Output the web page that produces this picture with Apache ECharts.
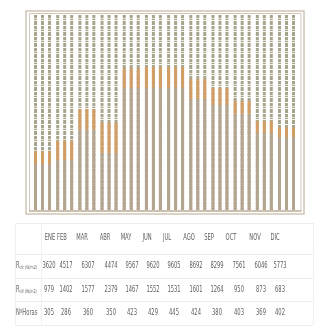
<!DOCTYPE html>
<html>
<head>
<meta charset="utf-8">
<script src="https://cdn.jsdelivr.net/npm/echarts@6/dist/echarts.min.js"></script>
<style>
  html, body { margin: 0; padding: 0; background: #fff; }
  #wrap { position: relative; width: 317px; height: 331px; overflow: hidden; }
  #chart { position: absolute; left: 0; top: 0; width: 317px; height: 331px; }
  #tabla { position: absolute; left: 0; top: 0; width: 317px; height: 331px; pointer-events: none;
           font-family: 'Liberation Sans Narrow', 'DejaVu Sans Condensed', sans-serif; color: #5e5e5e; font-size: 8px; }
  .t { position: absolute; white-space: nowrap; transform: translate(-50%, -50%) scaleX(0.72); line-height: 1; }
  .l { position: absolute; white-space: nowrap; transform-origin: left center; transform: translateY(-50%) scaleX(0.72); line-height: 1; }
  .l sub { font-size: 5px; vertical-align: -1px; }
  .h { position: absolute; height: 1px; background: #ececec; }
  .v { position: absolute; width: 1px; background: #f1f1f1; }
</style>
</head>
<body>
<div id="wrap">
  <div id="chart"></div>
  <div id="tabla"></div>
</div>
<script>
// meses
var meses = ['ENE', 'FEB', 'MAR', 'ABR', 'MAY', 'JUN', 'JUL', 'AGO', 'SEP', 'OCT', 'NOV', 'DIC'];

// valores de la tabla
var radDirecta = [3620, 4517, 6307, 4474, 9567, 9620, 9605, 8692, 8299, 7561, 6046, 5773];
var radDifusa = [979, 1402, 1577, 2379, 1467, 1552, 1531, 1601, 1264, 950, 873, 683];
var horas = [305, 286, 360, 350, 423, 429, 445, 424, 380, 403, 369, 402];

var barraDirecta = [3600, 3920, 6300, 4450, 9560, 9600, 9600, 8690, 8250, 7540, 6040, 5720];
var barraDifusa = [1000, 1500, 1620, 2400, 1560, 1620, 1620, 1570, 1340, 1000, 940, 760];

// posiciones de columnas de la tabla (solo maquetacion)
var xCabecera = [50, 62, 82, 105, 126, 147, 167, 189, 209, 231, 255, 275];
var xValor = [49, 66, 88, 111, 132, 153, 174, 196, 217, 239, 261, 280];

// patron rayado para la parte superior
var patron = document.createElement('canvas');
patron.width = 3;
patron.height = 11;
var pc = patron.getContext('2d');
pc.fillStyle = '#a8a58d';
pc.fillRect(0, 0, 3, 11);
pc.fillStyle = '#ffffff';
pc.fillRect(0, 3, 3, 1);
pc.fillStyle = '#e2e0d5';
pc.fillRect(0, 7, 3, 1);
pc.fillStyle = '#f4f3ee';
pc.fillRect(0, 9, 3, 1);

var myChart = echarts.init(document.getElementById('chart'));

var series = [];
for (var s = 0; s < 3; s++) {
    series.push({
        type: 'bar',
        stack: 'g' + s,
        data: barraDirecta,
        barWidth: 3,
        barGap: '133%',
        showBackground: true,
        backgroundStyle: { color: { image: patron, repeat: 'repeat' } },
        itemStyle: { color: '#b4a590' },
        silent: true
    });
    series.push({
        type: 'bar',
        stack: 'g' + s,
        data: barraDifusa,
        barWidth: 3,
        barGap: '133%',
        itemStyle: { color: '#d39e65' },
        silent: true
    });
}

var option = {
    animation: false,
    grid: { left: 31.4, right: 19.4, top: 15, bottom: 121 },
    xAxis: {
        type: 'category',
        data: meses,
        axisLine: { show: false },
        axisTick: { show: false },
        axisLabel: { show: false }
    },
    yAxis: {
        type: 'value',
        min: 0,
        max: 15300,
        show: false,
        splitLine: { show: false }
    },
    graphic: [
        { type: 'rect', shape: { x: 26, y: 11, width: 278, height: 203 },
          style: { fill: 'none', stroke: '#cfc5b6', lineWidth: 1.5 }, silent: true },
        { type: 'rect', shape: { x: 29.5, y: 13.5, width: 271.5, height: 197.5 },
          style: { fill: 'none', stroke: '#d2c8b9', lineWidth: 1 }, silent: true },
        { type: 'line', shape: { x1: 29, y1: 211, x2: 301.5, y2: 211 },
          style: { stroke: '#c3b5a1', lineWidth: 1.5 }, silent: true }
    ],
    series: series
};

myChart.setOption(option);

// tabla de datos
var tabla = document.getElementById('tabla');
function add(html) { tabla.insertAdjacentHTML('beforeend', html); }

var filasY = [223, 254, 278, 301, 325];
filasY.forEach(function (y) { add('<div class="h" style="left:15px;width:298px;top:' + y + 'px"></div>'); });
[15, 41, 313].forEach(function (x) { add('<div class="v" style="left:' + x + 'px;top:223px;height:102px"></div>'); });

var centros = [238, 266, 290, 313];
meses.forEach(function (m, i) {
    add('<div class="t" style="left:' + xCabecera[i] + 'px;top:' + centros[0] + 'px">' + m + '</div>');
});
var filas = [radDirecta, radDifusa, horas];
filas.forEach(function (fila, r) {
    fila.forEach(function (v, i) {
        add('<div class="t" style="left:' + xValor[i] + 'px;top:' + centros[r + 1] + 'px">' + v + '</div>');
    });
});
add('<div class="l" style="left:16px;top:' + centros[1] + 'px">R<sub>dir (W/m2)</sub></div>');
add('<div class="l" style="left:16px;top:' + centros[2] + 'px">R<sub>dif (W/m2)</sub></div>');
add('<div class="l" style="left:16px;top:' + centros[3] + 'px">NºHoras</div>');
</script>
</body>
</html>
